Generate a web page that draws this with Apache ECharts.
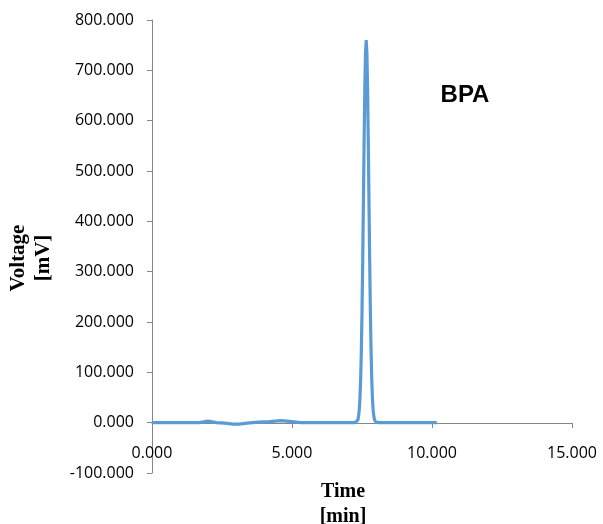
<!DOCTYPE html>
<html>
<head>
<meta charset="utf-8">
<script src="https://cdn.jsdelivr.net/npm/echarts@6/dist/echarts.min.js"></script>
<style>html,body{margin:0;padding:0;background:#fff;}#c{width:603px;height:524px;}</style>
</head>
<body>
<div id="c"></div>
<script>
const timeMin = [0, 0.5, 1.0, 1.7, 2.0, 2.3, 2.6, 2.9, 3.1, 3.4, 3.8, 4.2, 4.6, 5.0, 5.3, 6.0, 7.0, 7.25,
  7.30, 7.35, 7.375, 7.40, 7.425, 7.45, 7.475, 7.50, 7.525, 7.55, 7.575, 7.60, 7.625, 7.65,
  7.675, 7.70, 7.725, 7.75, 7.775, 7.80, 7.825, 7.85, 7.875, 7.90, 7.925, 7.95, 8.0, 8.1, 9.0, 10.17];
const voltage = [0, 0, 0, 0, 3, 0, -1, -3, -3, -1, 1, 2, 4, 2, 0, 0, 0, 0,
  1, 5, 12, 24, 46, 83, 139, 219, 320, 437, 557, 662, 734, 760,
  734, 662, 557, 437, 320, 219, 139, 83, 46, 24, 12, 5, 1, 0, 0, 0];
const yTicks = [-100, 800, 100];
const xTicks = [0, 15, 5];
const yTitle = 'Voltage\n[mV]';
const xTitle = 'Time\n[min]';
const label = 'BPA';

const chart = echarts.init(document.getElementById('c'));
const axisColor = '#868686';
chart.setOption({
  animation: false,
  grid: { left: 152, right: 31, top: 20, bottom: 51 },
  xAxis: {
    type: 'value', min: xTicks[0], max: xTicks[1], interval: xTicks[2],
    offset: -50,
    axisLine: { onZero: false, lineStyle: { color: axisColor, width: 1 } },
    axisTick: { show: true, length: 5, lineStyle: { color: axisColor } },
    splitLine: { show: false },
    axisLabel: { margin: 22, fontFamily: 'Open Sans', fontSize: 16, color: '#000',
      formatter: v => v.toFixed(3) }
  },
  yAxis: {
    type: 'value', min: yTicks[0], max: yTicks[1], interval: yTicks[2],
    axisLine: { show: true, lineStyle: { color: axisColor, width: 1 } },
    axisTick: { show: true, length: 5, lineStyle: { color: axisColor } },
    splitLine: { show: false },
    axisLabel: { margin: 18, fontFamily: 'Open Sans', fontSize: 16, color: '#000',
      formatter: v => v.toFixed(3) }
  },
  graphic: [
    { type: 'text', x: 31, y: 258, rotation: Math.PI / 2,
      style: { text: yTitle, font: 'bold 21px "Liberation Serif"', fill: '#000',
        align: 'center', verticalAlign: 'middle', lineHeight: 25 } },
    { type: 'text', x: 343, y: 504,
      style: { text: xTitle, font: 'bold 20px "Liberation Serif"', fill: '#000',
        align: 'center', verticalAlign: 'middle', lineHeight: 25 } },
    { type: 'text', x: 465, y: 95,
      style: { text: label, font: 'bold 24px "Liberation Sans"', fill: '#000',
        align: 'center', verticalAlign: 'middle' } }
  ],
  series: [{
    type: 'line',
    data: timeMin.map((t, i) => [t, voltage[i]]),
    showSymbol: false, smooth: false,
    lineStyle: { color: '#5B9BD5', width: 3.2 },
    itemStyle: { color: '#5B9BD5' }
  }]
});
</script>
</body>
</html>
